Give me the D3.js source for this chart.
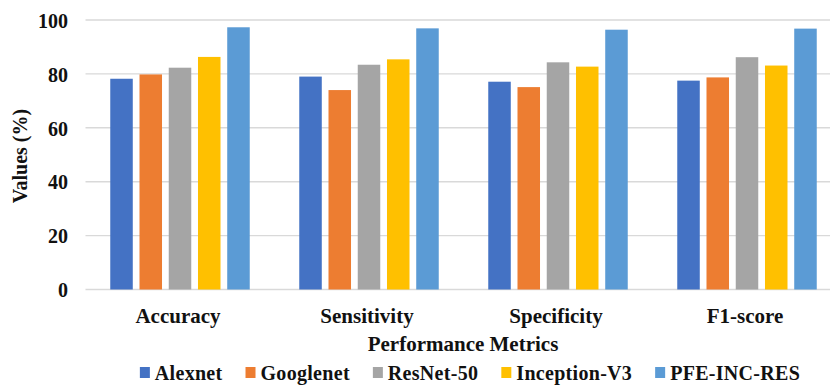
<!DOCTYPE html>
<html>
<head>
<meta charset="utf-8">
<script src="https://cdn.jsdelivr.net/npm/d3@7"></script>
<style>
  html, body { margin: 0; padding: 0; background: #fff; }
  svg { display: block; }
  svg text { font-family: "Liberation Serif", "Times New Roman", serif; font-weight: bold; fill: #111; }
</style>
</head>
<body>
<svg id="chart" width="830" height="385"></svg>
<script>
// Metrics on the x axis
const categories = ["Accuracy", "Sensitivity", "Specificity", "F1-score"];
// Models compared
const models = ["Alexnet", "Googlenet", "ResNet-50", "Inception-V3", "PFE-INC-RES"];
// Scores (%) per model, in category order
const alexnet     = [78.2, 79.0, 77.1, 77.5];
const googlenet   = [79.8, 74.0, 75.1, 78.7];
const resnet50    = [82.3, 83.4, 84.3, 86.2];
const inceptionV3 = [86.3, 85.4, 82.7, 83.1];
const pfeIncRes   = [97.3, 96.9, 96.4, 96.8];
const yTicks = [0, 20, 40, 60, 80, 100];
const colors = ["#4472C4", "#ED7D31", "#A5A5A5", "#FFC000", "#5B9BD5"];

const seriesValues = [alexnet, googlenet, resnet50, inceptionV3, pfeIncRes];
const rows = categories.map((c, i) => ({
  category: c,
  values: models.map((m, j) => ({ model: m, value: seriesValues[j][i], idx: j }))
}));

const FONT = '"Liberation Serif", "Times New Roman", serif';
const svg = d3.select("#chart");
const plot = { left: 85.5, right: 841.5, top: 20, bottom: 289.5 };

const x0 = d3.scaleBand().domain(categories).range([plot.left, plot.right])
  .paddingInner(0.262).paddingOuter(0.131);
const x1 = d3.scaleBand().domain(models).range([0, x0.bandwidth()]).paddingInner(0.23);
const y = d3.scaleLinear().domain([0, 100]).range([plot.bottom, plot.top]);

// Horizontal gridlines
svg.append("g")
  .selectAll("line")
  .data(yTicks)
  .join("line")
  .attr("x1", plot.left).attr("x2", plot.right)
  .attr("y1", d => y(d)).attr("y2", d => y(d))
  .attr("stroke", "#D9D9D9").attr("stroke-width", 1.4);

// Y axis labels
const yAxis = svg.append("g")
  .attr("transform", `translate(${plot.left},0)`)
  .call(d3.axisLeft(y).tickValues(yTicks).tickSize(0).tickPadding(17.5));
yAxis.attr("font-family", FONT).attr("font-size", 20);
yAxis.select(".domain").remove();
yAxis.selectAll("text").attr("fill", "#111").attr("dy", "0.36em");

// Bars
const groups = svg.append("g")
  .selectAll("g")
  .data(rows)
  .join("g")
  .attr("transform", d => `translate(${x0(d.category)},0)`);

groups.selectAll("rect")
  .data(d => d.values)
  .join("rect")
  .attr("x", d => x1(d.model))
  .attr("width", x1.bandwidth())
  .attr("y", d => y(d.value))
  .attr("height", d => y(0) - y(d.value))
  .attr("fill", d => colors[d.idx]);

// X axis labels
const xAxis = svg.append("g")
  .attr("transform", `translate(0,${plot.bottom})`)
  .call(d3.axisBottom(x0).tickSize(0).tickPadding(18.5));
xAxis.attr("font-family", FONT).attr("font-size", 21);
xAxis.select(".domain").remove();
xAxis.selectAll("text").attr("fill", "#111").attr("dx", -2);

// Axis titles
svg.append("text")
  .attr("transform", "translate(27,156) rotate(-90)")
  .attr("text-anchor", "middle")
  .style("font-size", "20px")
  .text("Values (%)");

svg.append("text")
  .attr("x", 463).attr("y", 351)
  .attr("text-anchor", "middle")
  .style("font-size", "21px")
  .text("Performance Metrics");

// Legend: swatch + label, laid out left to right and centred
const legend = svg.append("g").attr("transform", "translate(0,380)");
const items = legend.selectAll("g")
  .data(models)
  .join("g");
items.append("rect")
  .attr("x", 0).attr("y", -13).attr("width", 10).attr("height", 11)
  .attr("fill", (d, i) => colors[i]);
items.append("text")
  .attr("x", 15).attr("y", 0)
  .style("font-size", "20px")
  .style("letter-spacing", "0.3px")
  .text(d => d);

let cursor = 0;
const swatchGap = 15, itemGap = 23;
items.each(function () {
  const g = d3.select(this);
  g.attr("transform", `translate(${cursor},0)`);
  cursor += swatchGap + g.select("text").node().getComputedTextLength() + itemGap;
});
const legendWidth = cursor - itemGap;
legend.attr("transform", `translate(${470 - legendWidth / 2},380)`);
</script>
</body>
</html>
